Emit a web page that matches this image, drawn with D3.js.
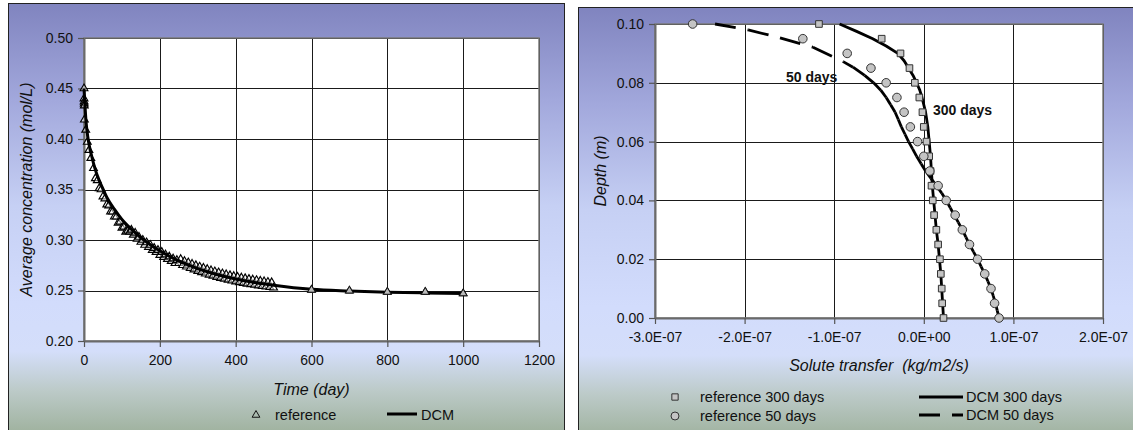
<!DOCTYPE html>
<html><head><meta charset="utf-8">
<script src="https://cdn.jsdelivr.net/npm/d3@7"></script>
<style>
body{margin:0;background:#fff;}
svg{display:block;font-family:"Liberation Sans",Arial,Helvetica,sans-serif;}
</style>
</head><body>
<svg id="c" width="1133" height="430"></svg>
<script>
// ---------- LEFT CHART DATA ----------
const timeTicks = [0, 200, 400, 600, 800, 1000, 1200];
const concTicks = [0.20, 0.25, 0.30, 0.35, 0.40, 0.45, 0.50];
const dcmTime = [0,2,5,10,15,20,30,40,50,60,80,100,125,150,175,200,250,300,350,400,450,500,600,700,800,900,1000];
const dcmConc = [0.450,0.437,0.419,0.402,0.3915,0.3834,0.3694,0.359,0.3505,0.3425,0.3305,0.3204,0.3107,0.3023,0.2953,0.2893,0.2793,0.2717,0.2658,0.2613,0.2579,0.2552,0.2512,0.2495,0.2483,0.2476,0.2471];
const refTime = [0,0,0.3,0.6,0.8,1,4.5,8.7,13,18,
 25,30,35,40,45,50,55,60,65,70,75,80,85,90,95,100,105,110,115,
 120,125,130,135,140,145,150,155,160,165,170,175,180,185,190,195,200,205,210,215,220,225,230,235,240,245,
 250,255,260,265,270,275,280,285,290,295,300,305,310,315,320,325,330,335,340,345,350,355,360,365,370,375,
 380,385,390,395,400,405,410,415,420,425,430,435,440,445,450,455,460,465,470,475,480,485,490,495,500,
 600,700,800,900,1000];
const refConc = [0.450,0.440,0.437,0.435,0.433,0.419,0.409,0.397,0.389,0.381,
 0.371,0.361,0.359,0.351,0.350,0.343,0.341,0.335,0.334,0.328,0.328,0.323,0.323,0.317,0.318,0.312,0.313,0.308,0.309,
 0.308,0.310,0.305,0.307,0.301,0.303,0.298,0.300,0.295,0.2975,0.293,0.295,0.290,0.292,0.288,0.290,0.285,0.288,0.283,0.2855,0.281,0.2835,0.279,0.2815,0.277,0.280,
 0.277,0.281,0.275,0.279,0.2735,0.2777,0.2720,0.2763,0.2706,0.2749,0.2692,0.2735,0.2679,0.2723,0.2666,0.2711,0.2655,0.2699,0.2644,0.2688,0.2633,0.2678,0.2623,0.2668,0.2614,0.2659,
 0.2605,0.2650,0.2596,0.2642,0.2588,0.2634,0.2581,0.2627,0.2573,0.2620,0.2566,0.2613,0.2560,0.2607,0.2554,0.2601,0.2548,0.2595,0.2542,0.2590,0.2537,0.2584,0.2532,0.2580,0.2527,
 0.2505,0.2497,0.2485,0.2485,0.2470];

// ---------- RIGHT CHART DATA ----------
const transferTicks = [-3e-7, -2e-7, -1e-7, 0, 1e-7, 2e-7];
const transferTickLabels = ["-3.0E-07","-2.0E-07","-1.0E-07","0.0E+00","1.0E-07","2.0E-07"];
const depthTicks = [0.00, 0.02, 0.04, 0.06, 0.08, 0.10];
const refDepth = [0.100,0.095,0.090,0.085,0.080,0.075,0.070,0.065,0.060,0.055,0.050,0.045,0.040,0.035,0.030,0.025,0.020,0.015,0.010,0.005,0.000];
const ref300 = [-1.17e-7,-0.47e-7,-0.26e-7,-0.16e-7,-0.10e-7,-0.05e-7,-0.015e-7,0.00e-7,0.03e-7,0.06e-7,0.075e-7,0.086e-7,0.10e-7,0.115e-7,0.14e-7,0.16e-7,0.18e-7,0.19e-7,0.20e-7,0.205e-7,0.22e-7];
const ref50 = [-2.58e-7,-1.35e-7,-0.855e-7,-0.59e-7,-0.42e-7,-0.30e-7,-0.22e-7,-0.15e-7,-0.07e-7,0.00e-7,0.067e-7,0.16e-7,0.25e-7,0.35e-7,0.43e-7,0.51e-7,0.60e-7,0.68e-7,0.75e-7,0.79e-7,0.84e-7];
const dcm300Depth = [0.1000,0.0975,0.0950,0.0925,0.0900,0.0875,0.0850,0.0825,0.0800,0.0775,0.0750,0.0700,0.0650,0.0600,0.0550,0.0500,0.0450,0.0400,0.0350,0.0300,0.0250,0.0200,0.0150,0.0100,0.0050,0.0000];
const dcm300 = [-0.94e-7,-0.75e-7,-0.57e-7,-0.42e-7,-0.29e-7,-0.22e-7,-0.17e-7,-0.12e-7,-0.08e-7,-0.045e-7,-0.02e-7,0.02e-7,0.045e-7,0.06e-7,0.075e-7,0.085e-7,0.095e-7,0.11e-7,0.125e-7,0.14e-7,0.16e-7,0.175e-7,0.19e-7,0.20e-7,0.21e-7,0.22e-7];
const dcm50Depth = [0.1000,0.0980,0.0953,0.0921,0.0872,0.0853,0.0825,0.0800,0.0775,0.0750,0.0725,0.0700,0.0675,0.0650,0.0625,0.0600,0.0575,0.0550,0.0525,0.0500,0.0475,0.0450,0.0425,0.0400,0.0375,0.0350,0.0325,0.0300,0.0275,0.0250,0.0225,0.0200,0.0175,0.0150,0.0125,0.0100,0.0075,0.0050,0.0025,0.0000];
const dcm50 = [-2.33e-7,-1.96e-7,-1.605e-7,-1.237e-7,-0.90e-7,-0.79e-7,-0.66e-7,-0.56e-7,-0.48e-7,-0.42e-7,-0.37e-7,-0.32e-7,-0.285e-7,-0.25e-7,-0.21e-7,-0.17e-7,-0.125e-7,-0.08e-7,-0.03e-7,0.02e-7,0.08e-7,0.14e-7,0.20e-7,0.25e-7,0.295e-7,0.34e-7,0.385e-7,0.43e-7,0.47e-7,0.51e-7,0.555e-7,0.60e-7,0.64e-7,0.68e-7,0.715e-7,0.75e-7,0.775e-7,0.80e-7,0.82e-7,0.84e-7];

const svg = d3.select("#c");
const defs = svg.append("defs");
function grad(id){
  const g = defs.append("linearGradient").attr("id", id).attr("x1",0).attr("y1",0).attr("x2",0).attr("y2",1);
  [[0,"#8084bf"],[0.22,"#a2a8dc"],[0.46,"#c6d0f4"],[0.68,"#d2dcfc"],[0.79,"#d4defa"],[0.88,"#bccac8"],[1,"#98ac94"]]
    .forEach(s => g.append("stop").attr("offset", s[0]).attr("stop-color", s[1]));
}
grad("gL"); grad("gR");

// panels
svg.append("rect").attr("x",8.5).attr("y",3.5).attr("width",556).attr("height",440)
  .attr("fill","url(#gL)").attr("stroke","#222").attr("stroke-width",1);
svg.append("rect").attr("x",578.5).attr("y",7.5).attr("width",570).attr("height",440)
  .attr("fill","url(#gR)").attr("stroke","#222").attr("stroke-width",1);

function drawFrame(g, x, y, xt, yt, xfmt, yfmt){
  const [x0,x1] = x.range(), [y0,y1] = y.range();
  g.append("rect").attr("x",x0).attr("y",y1).attr("width",x1-x0).attr("height",y0-y1).attr("fill","#fff");
  g.selectAll(".gx").data(xt).enter().append("line")
    .attr("x1",d=>Math.round(x(d))+0.5).attr("x2",d=>Math.round(x(d))+0.5).attr("y1",y1).attr("y2",y0)
    .attr("stroke","#1a1a1a").attr("stroke-width",1);
  g.selectAll(".gy").data(yt).enter().append("line")
    .attr("y1",d=>Math.round(y(d))+0.5).attr("y2",d=>Math.round(y(d))+0.5).attr("x1",x0).attr("x2",x1)
    .attr("stroke","#1a1a1a").attr("stroke-width",1);
  g.append("rect").attr("x",x0).attr("y",y1).attr("width",x1-x0).attr("height",y0-y1)
    .attr("fill","none").attr("stroke","#7a7a7a").attr("stroke-width",1.5);
  const ax = g.append("g").attr("transform",`translate(0,${y0})`)
    .call(d3.axisBottom(x).tickValues(xt).tickSize(6).tickSizeOuter(0).tickPadding(8).tickFormat(xfmt));
  const ay = g.append("g").attr("transform",`translate(${x0},0)`)
    .call(d3.axisLeft(y).tickValues(yt).tickSize(6).tickSizeOuter(0).tickPadding(5).tickFormat(yfmt));
  [ax, ay].forEach(a => {
    a.select(".domain").attr("stroke","#6a6a6a").attr("stroke-width",2);
    a.selectAll(".tick line").attr("stroke","#555").attr("stroke-width",1.2);
    a.selectAll("text").attr("font-size",14).attr("fill","#111").attr("font-family","Liberation Sans, Arial, sans-serif");
  });
}

// ---------- LEFT ----------
const xL = d3.scaleLinear().domain([0,1200]).range([84,539]);
const yL = d3.scaleLinear().domain([0.20,0.50]).range([341,38]);
const gL = svg.append("g");
drawFrame(gL, xL, yL, timeTicks, concTicks, d3.format("d"), d3.format(".2f"));

const tri = d3.symbol().type(d3.symbolTriangle).size(26);
const refPts = refTime.map((t,i)=>[t, refConc[i]]);
gL.append("g").selectAll("path").data(refPts).enter().append("path")
  .attr("d", tri).attr("transform", d=>`translate(${xL(d[0])},${yL(d[1])})`)
  .attr("fill","#fff").attr("fill-opacity",0.5).attr("stroke","#000").attr("stroke-width",1.15);
const dcmLine = d3.line().x(d=>xL(d[0])).y(d=>yL(d[1])).curve(d3.curveMonotoneX);
gL.append("path").datum(dcmTime.map((t,i)=>[t, dcmConc[i]]))
  .attr("d", dcmLine).attr("fill","none").attr("stroke","#000").attr("stroke-width",3);
gL.append("g").selectAll("path").data(refPts.filter(d=>d[0]>=600)).enter().append("path")
  .attr("d", tri).attr("transform", d=>`translate(${xL(d[0])},${yL(d[1])})`)
  .attr("fill","#bbb").attr("stroke","#111").attr("stroke-width",1);

gL.append("text").attr("x",311.5).attr("y",395).attr("text-anchor","middle")
  .attr("font-size",16).attr("font-style","italic").attr("fill","#111").text("Time (day)");
gL.append("text").attr("transform","translate(32,189.5) rotate(-90)").attr("text-anchor","middle")
  .attr("font-size",16).attr("font-style","italic").attr("fill","#111").text("Average concentration (mol/L)");
gL.append("path").attr("d", d3.symbol().type(d3.symbolTriangle).size(26)).attr("transform","translate(256,415)")
  .attr("fill","none").attr("stroke","#111").attr("stroke-width",1);
gL.append("text").attr("x",275).attr("y",420).attr("font-size",14.5).attr("fill","#111").text("reference");
gL.append("line").attr("x1",387).attr("x2",417).attr("y1",414).attr("y2",414).attr("stroke","#000").attr("stroke-width",3);
gL.append("text").attr("x",421).attr("y",420).attr("font-size",14.5).attr("fill","#111").text("DCM");

// ---------- RIGHT ----------
const xR = d3.scaleLinear().domain([-3e-7,2e-7]).range([655,1103]);
const yR = d3.scaleLinear().domain([0,0.10]).range([318,24]);
const gR = svg.append("g");
drawFrame(gR, xR, yR, transferTicks, depthTicks, (d,i)=>transferTickLabels[i], d3.format(".2f"));

const lineR = d3.line().x(d=>xR(d[0])).y(d=>yR(d[1]));
gR.append("path").datum(dcm300.map((v,i)=>[v, dcm300Depth[i]]))
  .attr("d", lineR).attr("fill","none").attr("stroke","#000").attr("stroke-width",2.8).attr("stroke-linejoin","round");
const p50 = dcm50.map((v,i)=>[v, dcm50Depth[i]]);
const segs = d3.pairs(p50);
gR.append("g").selectAll("path").data(segs).enter().append("path")
  .attr("d", d=>lineR(d)).attr("fill","none").attr("stroke","#000").attr("stroke-width",2.8)
  .attr("stroke-dasharray","21,12").attr("stroke-linecap","butt");

const sq = d3.symbol().type(d3.symbolSquare).size(44);
const ci = d3.symbol().type(d3.symbolCircle).size(58);
gR.append("g").selectAll("path").data(ref300.map((v,i)=>[v, refDepth[i]])).enter().append("path")
  .attr("d", sq).attr("transform", d=>`translate(${xR(d[0])},${yR(d[1])})`)
  .attr("fill","#c4c4c4").attr("stroke","#333").attr("stroke-width",1);
gR.append("g").selectAll("path").data(ref50.map((v,i)=>[v, refDepth[i]])).enter().append("path")
  .attr("d", ci).attr("transform", d=>`translate(${xR(d[0])},${yR(d[1])})`)
  .attr("fill","#c4c4c4").attr("stroke","#333").attr("stroke-width",1);

gR.append("text").attr("x",786).attr("y",82).attr("font-size",14).attr("font-weight","bold").attr("fill","#111").text("50 days");
gR.append("text").attr("x",933).attr("y",115).attr("font-size",14).attr("font-weight","bold").attr("fill","#111").text("300 days");

gR.append("text").attr("x",879).attr("y",371).attr("text-anchor","middle").style("white-space","pre")
  .attr("font-size",16).attr("font-style","italic").attr("fill","#111").text("Solute transfer  (kg/m2/s)");
gR.append("text").attr("transform","translate(606,171) rotate(-90)").attr("text-anchor","middle")
  .attr("font-size",16).attr("font-style","italic").attr("fill","#111").text("Depth (m)");

gR.append("path").attr("d", d3.symbol().type(d3.symbolSquare).size(40)).attr("transform","translate(675,397)")
  .attr("fill","#c4c4c4").attr("stroke","#333").attr("stroke-width",1);
gR.append("text").attr("x",700).attr("y",402).attr("font-size",14.5).attr("fill","#111").text("reference 300 days");
gR.append("path").attr("d", d3.symbol().type(d3.symbolCircle).size(50)).attr("transform","translate(675,416)")
  .attr("fill","#c4c4c4").attr("stroke","#333").attr("stroke-width",1);
gR.append("text").attr("x",700).attr("y",421).attr("font-size",14.5).attr("fill","#111").text("reference 50 days");
gR.append("line").attr("x1",919).attr("x2",963).attr("y1",397).attr("y2",397).attr("stroke","#000").attr("stroke-width",2.8);
gR.append("text").attr("x",966).attr("y",402).attr("font-size",14.5).attr("fill","#111").text("DCM 300 days");
gR.append("line").attr("x1",919).attr("x2",963).attr("y1",415).attr("y2",415).attr("stroke","#000").attr("stroke-width",2.8)
  .attr("stroke-dasharray","21,12");
gR.append("text").attr("x",966).attr("y",420).attr("font-size",14.5).attr("fill","#111").text("DCM 50 days");
</script>
</body></html>
